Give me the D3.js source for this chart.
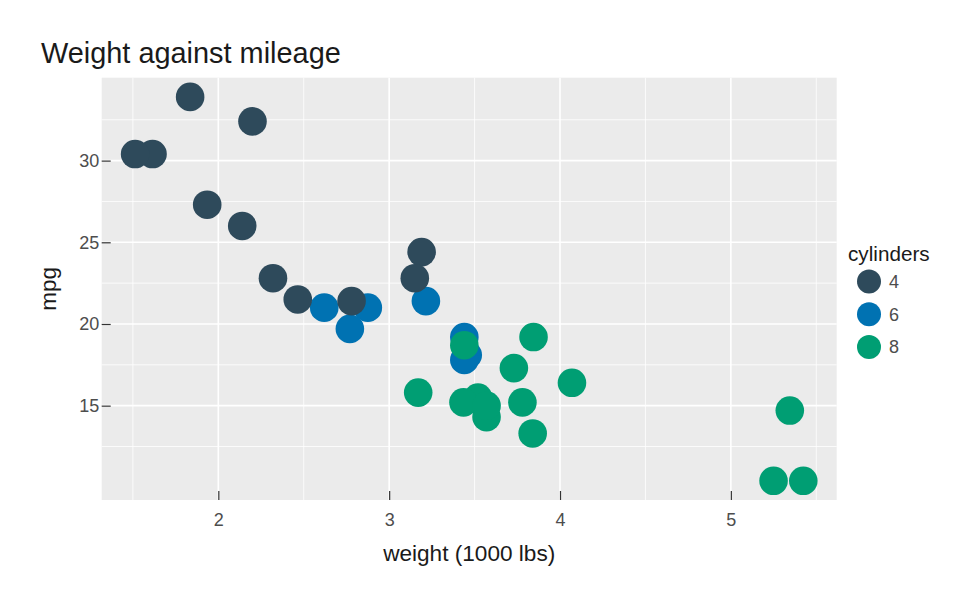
<!DOCTYPE html>
<html>
<head>
<meta charset="utf-8">
<script src="https://cdn.jsdelivr.net/npm/d3@7"></script>
<style>
  html, body { margin: 0; padding: 0; background: #fff; }
  svg { display: block; font-family: "Liberation Sans", Arial, Helvetica, sans-serif; }
</style>
</head>
<body>
<svg id="chart" width="975" height="600"></svg>
<script>
// mtcars: weight (1000 lbs), mpg, cylinders
const weights = [2.620, 2.875, 2.320, 3.215, 3.440, 3.460, 3.570, 3.190, 3.150, 3.440, 3.440, 4.070, 3.730, 3.780, 5.250, 5.424, 5.345, 2.200, 1.615, 1.835, 2.465, 3.520, 3.435, 3.840, 3.845, 1.935, 2.140, 1.513, 3.170, 2.770, 3.570, 2.780];
const mpgs    = [21.0, 21.0, 22.8, 21.4, 18.7, 18.1, 14.3, 24.4, 22.8, 19.2, 17.8, 16.4, 17.3, 15.2, 10.4, 10.4, 14.7, 32.4, 30.4, 33.9, 21.5, 15.5, 15.2, 13.3, 19.2, 27.3, 26.0, 30.4, 15.8, 19.7, 15.0, 21.4];
const cyls    = [6, 6, 4, 6, 8, 6, 8, 4, 4, 6, 6, 8, 8, 8, 8, 8, 8, 4, 4, 4, 4, 8, 8, 8, 8, 4, 4, 4, 8, 6, 8, 4];
const cylLevels = [4, 6, 8];
const cylColors = ["#2e4a5b", "#0072b2", "#009e73"];
const drawOrder = [6, 4, 8];
const xTicks = [2, 3, 4, 5];
const yTicks = [15, 20, 25, 30];

const svg = d3.select("#chart");
const panel = { left: 101.7, right: 836.7, top: 77.7, bottom: 500 };
const FONT = "Liberation Sans, Arial, sans-serif";

const xExt = d3.extent(weights), yExt = d3.extent(mpgs);
const xPad = (xExt[1] - xExt[0]) * 0.05, yPad = (yExt[1] - yExt[0]) * 0.05;
const x = d3.scaleLinear().domain([xExt[0] - xPad, xExt[1] + xPad]).range([panel.left, panel.right]);
const y = d3.scaleLinear().domain([yExt[0] - yPad, yExt[1] + yPad]).range([panel.bottom, panel.top]);
const color = d3.scaleOrdinal().domain(cylLevels).range(cylColors);

// panel background
svg.append("rect")
  .attr("x", panel.left).attr("y", panel.top)
  .attr("width", panel.right - panel.left).attr("height", panel.bottom - panel.top)
  .attr("fill", "#ebebeb");

// minor gridlines
const xMinor = xTicks.map(t => t - 0.5).concat([xTicks[xTicks.length - 1] + 0.5]).filter(v => v > x.domain()[0] && v < x.domain()[1]);
const yMinor = yTicks.map(t => t - 2.5).concat([yTicks[yTicks.length - 1] + 2.5]).filter(v => v > y.domain()[0] && v < y.domain()[1]);
const grid = svg.append("g");
grid.selectAll(".xmin").data(xMinor).join("line")
  .attr("x1", d => x(d)).attr("x2", d => x(d)).attr("y1", panel.top).attr("y2", panel.bottom)
  .attr("stroke", "#fff").attr("stroke-width", 0.8);
grid.selectAll(".ymin").data(yMinor).join("line")
  .attr("y1", d => y(d)).attr("y2", d => y(d)).attr("x1", panel.left).attr("x2", panel.right)
  .attr("stroke", "#fff").attr("stroke-width", 0.8);
// major gridlines
grid.selectAll(".xmaj").data(xTicks).join("line")
  .attr("x1", d => x(d)).attr("x2", d => x(d)).attr("y1", panel.top).attr("y2", panel.bottom)
  .attr("stroke", "#fff").attr("stroke-width", 1.6);
grid.selectAll(".ymaj").data(yTicks).join("line")
  .attr("y1", d => y(d)).attr("y2", d => y(d)).attr("x1", panel.left).attr("x2", panel.right)
  .attr("stroke", "#fff").attr("stroke-width", 1.6);

// axes (ticks drawn inward onto the panel)
const xAxis = svg.append("g").attr("transform", `translate(0,${panel.bottom})`)
  .call(d3.axisBottom(x).tickValues(xTicks).tickFormat(d3.format("d")).tickSize(-9).tickPadding(13));
xAxis.select(".domain").remove();
xAxis.selectAll(".tick line").attr("stroke", "#333").attr("stroke-width", 1.2);
xAxis.selectAll(".tick text").attr("fill", "#4d4d4d").attr("font-size", 18).attr("font-family", FONT);

const yAxis = svg.append("g").attr("transform", `translate(${panel.left},0)`)
  .call(d3.axisLeft(y).tickValues(yTicks).tickFormat(d3.format("d")).tickSize(0).tickPadding(2.5));
yAxis.select(".domain").remove();
yAxis.selectAll(".tick line").remove();
yAxis.selectAll(".tick").append("line")
  .attr("x1", 0).attr("x2", 9).attr("stroke", "#333").attr("stroke-width", 1.2);
yAxis.selectAll(".tick text").attr("fill", "#4d4d4d").attr("font-size", 18).attr("font-family", FONT);

// points
const pts = weights.map((w, i) => ({ wt: w, mpg: mpgs[i], cyl: cyls[i], i }));
pts.sort((a, b) => (drawOrder.indexOf(a.cyl) - drawOrder.indexOf(b.cyl)) || (a.i - b.i));
svg.append("g").selectAll("circle").data(pts).join("circle")
  .attr("cx", d => x(d.wt)).attr("cy", d => y(d.mpg)).attr("r", 14.3)
  .attr("fill", d => color(d.cyl));

// titles
svg.append("text").attr("x", 41).attr("y", 62.5)
  .attr("font-size", 28.9).attr("fill", "#1a1a1a").text("Weight against mileage");
svg.append("text").attr("x", (panel.left + panel.right) / 2).attr("y", 561)
  .attr("text-anchor", "middle").attr("font-size", 22.6).attr("fill", "#1a1a1a").text("weight (1000 lbs)");
svg.append("text").attr("transform", `translate(55.5,${(panel.top + panel.bottom) / 2}) rotate(-90)`)
  .attr("text-anchor", "middle").attr("font-size", 22.6).attr("fill", "#1a1a1a").text("mpg");

// legend
const lg = svg.append("g");
lg.append("text").attr("x", 848).attr("y", 260.5).attr("font-size", 20.7).attr("fill", "#1a1a1a").text("cylinders");
const items = lg.selectAll(".item").data(cylLevels).join("g")
  .attr("transform", (d, i) => `translate(869,${281.5 + i * 32.7})`);
items.append("circle").attr("r", 12).attr("fill", d => color(d));
items.append("text").attr("x", 20).attr("dy", "0.36em").attr("font-size", 18)
  .attr("fill", "#4d4d4d").text(d => d);
</script>
</body>
</html>
